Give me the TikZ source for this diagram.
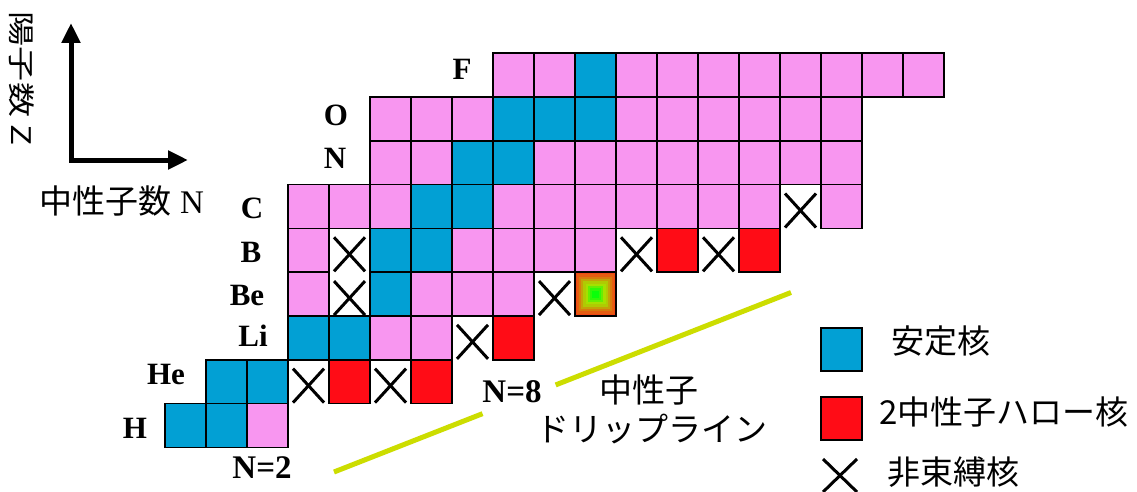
\documentclass[tikz,border=0pt]{standalone}
\usepackage{fontspec}
\usepackage{graphicx}
\setmainfont{Liberation Serif}
\newfontfamily\jp{Noto Sans CJK JP}
\usetikzlibrary{arrows.meta,calc}
\definecolor{colp}{RGB}{248,150,240}
\definecolor{colb}{RGB}{2,160,212}
\definecolor{colr}{RGB}{255,12,22}
\definecolor{cline}{RGB}{204,221,0}
\definecolor{gOut}{RGB}{240,70,20}
\definecolor{gMid}{RGB}{165,225,0}
\definecolor{gIn}{RGB}{10,255,10}
\newcommand\cellrow[3]{%
  \foreach \t [count=\k from #2] in {#3} {
    \if x\t
      \node[cellx] (c-\k-#1) at ({185.5+41*\k},{469.19-43.78*#1}) {};
    \else
      \node[cellbase, draw, fill=col\t] (c-\k-#1) at ({185.5+41*\k},{469.19-43.78*#1}) {};
    \fi
  }}
\begin{document}
\begin{tikzpicture}[x=1pt,y=-1pt,
  cellbase/.style={minimum width=41pt, minimum height=43.78pt, inner sep=0pt, outer sep=0pt, line width=1.6pt},
  xmark/.style={line width=3pt, draw=black},
  cellx/.style={cellbase, append after command={
     ([shift={(-15.5,-13)}]\tikzlastnode.center) edge[xmark] ([shift={(15.5,21)}]\tikzlastnode.center)
     ([shift={(15.5,-13)}]\tikzlastnode.center) edge[xmark] ([shift={(-15.5,21)}]\tikzlastnode.center)}},
  elem/.style={font=\bfseries\fontsize{31}{31}\selectfont, inner sep=0pt},
  nlab/.style={font=\bfseries\fontsize{33}{33}\selectfont, inner sep=0pt},
  jtext/.style={font=\jp\fontsize{33}{33}\selectfont, inner sep=0pt},
  legsq/.style={minimum width=41pt, minimum height=43pt, inner sep=0pt, draw, line width=1.5pt},
  dripline/.style={line width=5pt, draw=cline},
  axis/.style={line width=5pt, line join=miter, {Triangle[width=18pt,length=20pt]}-{Triangle[width=18pt,length=20pt]}}
]
\useasboundingbox (0,0) rectangle (1137,492);

% chart rows
\cellrow{1}{0}{b,b,p}
\cellrow{2}{1}{b,b,x,r,x,r}
\cellrow{3}{3}{b,b,p,p,x,r}
\cellrow{4}{3}{p,x,b,p,p,p,x,r}
\cellrow{5}{3}{p,x,b,b,p,p,p,p,x,r,x,r}
\cellrow{6}{3}{p,p,p,b,b,p,p,p,p,p,p,p,x,p}
\cellrow{7}{5}{p,p,b,b,p,p,p,p,p,p,p,p}
\cellrow{8}{5}{p,p,p,b,b,b,p,p,p,p,p,p}
\cellrow{9}{8}{p,p,b,p,p,p,p,p,p,p,p}

% gradient cell (Be, N=10)
\path[fill=gOut] (c-10-4.north west) rectangle (c-10-4.south east);
\foreach \c [count=\i from 1] in {gOut!85!gMid, gMid!35!gOut, gMid!60!gOut, gMid!85!gOut, gMid, gIn!40!gMid, gIn!75!gMid, gIn}
  \path[fill=\c] ($(c-10-4.center)+(-20.5+2.1*\i,-21.9+2.3*\i)$) rectangle ($(c-10-4.center)+(20.5-2.1*\i,21.9-2.3*\i)$);
\draw[line width=1.6pt] (c-10-4.north west) rectangle (c-10-4.south east);

% element labels
\node[elem] (lF) at (462,69) {F};
\node[elem] (lO) at (336,115) {O};
\node[elem] (lN) at (335,158) {N};
\node[elem] (lC) at (252,208) {C};
\node[elem] (lB) at (251,252) {B};
\node[elem] (lBe) at (247,295) {Be};
\node[elem] (lLi) at (253,336) {Li};
\node[elem] (lHe) at (166,374) {He};
\node[elem] (lH) at (135,428) {H};
\node[nlab] (n2) at (262,468) {N=2};
\node[nlab] (n8) at (512,391.5) {N=8};

% drip line
\coordinate (d1) at (334,472);
\coordinate (d2) at (791,292.5);
\draw[dripline] (d1) -- ($(d1)!0.325!(d2)$);
\draw[dripline] ($(d1)!0.485!(d2)$) -- (d2);
\node[jtext] (drip1) at (649,390) {中性子};
\node[jtext] (drip2) at (652,429) {ドリップライン};

% axes
\coordinate (ztip) at (71,23);
\coordinate (orig) at (71,160);
\coordinate (ntip) at (188,160);
\draw[axis] (ztip) -- (orig) -- (ntip);
\node[inner sep=0pt, rotate=-90] (zlab) at (22,79) {\jp\fontsize{27}{27}\selectfont\scalebox{1.3}[1]{陽子数 Z}};
\node[inner sep=0pt] (nlabel) at (122,201) {\fontsize{33}{33}\selectfont{\jp 中性子数} N};

% legend
\node[legsq, fill=colb] (lgb) at (841.5,349.5) {};
\node[jtext, anchor=west] (lgbt) at (891,341) {安定核};
\node[legsq, fill=colr] (lgr) at (841.5,418.5) {};
\node[jtext, anchor=west] (lgrt) at (879,412) {2中性子ハロー核};
\coordinate (lx) at (840,475.5);
\draw[xmark] ($(lx)+(-17,-16.5)$) -- ($(lx)+(17,16.5)$);
\draw[xmark] ($(lx)+(17,-16.5)$) -- ($(lx)+(-17,16.5)$);
\node[jtext, anchor=west] (lgxt) at (887,472) {非束縛核};
\end{tikzpicture}
\end{document}
